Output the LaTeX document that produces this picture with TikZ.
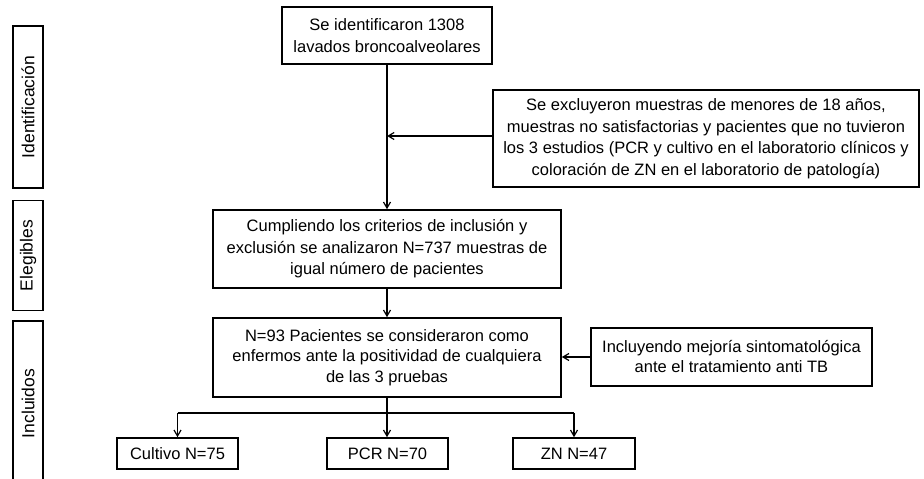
\documentclass[tikz,border=0pt]{standalone}
\usepackage{fontspec}
\setmainfont{Liberation Sans}
\usetikzlibrary{arrows.meta}
\begin{document}
\begin{tikzpicture}[x=1pt,y=-1pt,
  box/.style={draw,line width=1.6pt,inner sep=0pt,align=center,
    font=\fontsize{16.5}{21.5}\selectfont},
  side/.style={draw,line width=1.6pt,inner sep=0pt,rotate=90,
    minimum height=30pt,font=\fontsize{17.5}{21}\selectfont},
  conn/.style={line width=1.3pt},
  arr/.style={conn,-{Straight Barb[length=6pt,width=7pt,line width=1.2pt]}}]
\useasboundingbox (0,0) rectangle (924,479);
% side labels
\node[side,minimum width=162pt] (sid) at (28,107) {Identificación};
\node[side,minimum width=110pt] (sel) at (28,255.5) {Elegibles};
\node[side,minimum width=165pt] (sin) at (28,403.5) {Incluidos};
% main boxes
\node[box,minimum width=210pt,minimum height=57pt] (top) at (387,35.5)
  {Se identificaron 1308\\lavados broncoalveolares};
\node[box,minimum width=426pt,minimum height=97pt] (exc) at (706,138.5)
  {Se excluyeron muestras de menores de 18 años,\\muestras no satisfactorias y pacientes que no tuvieron\\los 3 estudios (PCR y cultivo en el laboratorio clínicos y\\coloración de ZN en el laboratorio de patología)};
\node[box,minimum width=348pt,minimum height=78pt] (cum) at (387,249)
  {Cumpliendo los criterios de inclusión y\\exclusión se analizaron N=737 muestras de\\igual número de pacientes};
\node[box,minimum width=348pt,minimum height=79pt,
  font=\fontsize{16.5}{20.5}\selectfont] (n93) at (387,357.5)
  {N=93 Pacientes se consideraron como\\enfermos ante la positividad de cualquiera\\de las 3 pruebas};
\node[box,minimum width=281pt,minimum height=58pt,
  font=\fontsize{16.5}{20}\selectfont] (inc) at (731.5,357)
  {Incluyendo mejoría sintomatológica\\ante el tratamiento anti TB};
\node[box,minimum width=121pt,minimum height=31pt] (cul) at (177.5,453.5) {Cultivo N=75};
\node[box,minimum width=121pt,minimum height=31pt] (pcr) at (387.5,453.5) {PCR N=70};
\node[box,minimum width=122pt,minimum height=31pt] (zn) at (574,453.5) {ZN N=47};
% connectors
\coordinate (vx) at (387,0);
\coordinate (jn) at (387,136);
\coordinate (br) at (387,413);
\draw[arr] (top.south -| vx) -- (cum.north -| vx);
\draw[arr] (exc.west |- jn) -- (jn);
\draw[arr] (cum.south -| vx) -- (n93.north -| vx);
\draw[arr] (inc.west) -- (n93.east |- inc.west);
\draw[conn] (n93.south -| vx) -- (br);
\draw[arr] (br -| cul.north) -- (cul.north) ;
\draw[conn] (br -| cul.north) -- (br -| zn.north);
\draw[arr] (br) -- (pcr.north -| br);
\draw[arr] (br -| zn.north) -- (zn.north);
\end{tikzpicture}
\end{document}
